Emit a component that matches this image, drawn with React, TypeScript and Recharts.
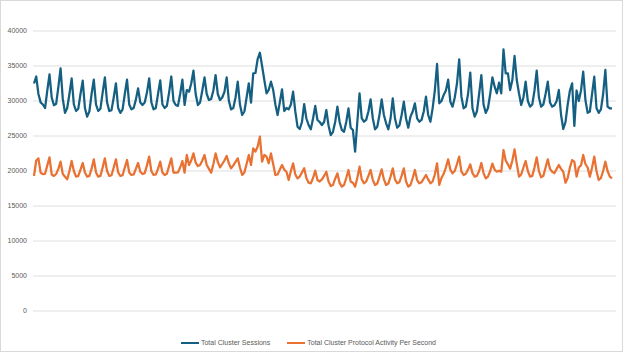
import { LineChart, Line, XAxis, YAxis, CartesianGrid, Legend } from "recharts";

// Samples, left to right (about five per daily cycle)
const totalClusterSessions = [
  32500, 33500,
  31000, 29800, 29500, 29000, 31500, 33800, 30500, 29400, 29600, 32000,
  34670, 30300, 28300, 29000, 31000, 33240, 29500, 28570, 28900, 31000,
  32900, 29000, 27760, 28500, 31000, 33050, 29500, 28570, 28900, 31200,
  33380, 29800, 28570, 28700, 30500, 32530, 29000, 28300, 28800, 31000,
  33050, 29500, 28800, 29000, 30200, 31800, 29800, 29430, 29800, 31200,
  33240, 29800, 28800, 29000, 31000, 32950, 29500, 29000, 29300, 31200,
  33500, 30000, 29430, 29300, 31000, 33050, 29430, 31570, 31330, 32500,
  34330, 31000, 29430, 29800, 31500, 33380, 31000, 30140, 30300, 31500,
  33710, 31000, 30140, 30500, 31300, 33380, 30000, 28800, 29000, 30500,
  32760, 29500, 28000, 28500, 30500, 32530, 29760, 33950, 34000, 36000,
  36900, 35000, 33000, 31100, 31600, 32760, 31600, 29500, 28000, 29800,
  31670, 28570, 29000, 28800, 29500, 31330, 28500, 26330, 26000, 27000,
  29570, 27500, 26570, 25950, 27500, 29290, 27290, 27000, 26570, 27000,
  28710, 26500, 25140, 25600, 27000, 29190, 27000, 25860, 25600, 27000,
  28950, 26190, 25860, 22760, 27000, 31100, 27520, 27040, 27300, 28500,
  30240, 27500, 25950, 26330, 28000, 30240, 28000, 26810, 25950, 27500,
  30380, 27500, 26190, 26500, 28000, 29900, 27500, 26190, 27760, 28500,
  29670, 27520, 27040, 27300, 28500, 30620, 28000, 27040, 28950, 31500,
  35290, 29670, 30000, 30860, 31500, 33050, 29900, 29190, 30500, 32500,
  35950, 30620, 28960, 29190, 31000, 34050, 28960, 27760, 28500, 31000,
  33710, 29500, 28300, 29000, 31000, 33380, 32050, 31100, 32620, 31100,
  37380, 33950, 33950, 31570, 33000, 36430, 33000, 31100, 29430, 30500,
  32760, 30000, 29190, 29500, 31500, 34330, 30500, 29190, 29500, 31000,
  32760, 29800, 29190, 29400, 30000,
  31570, 28000, 26000, 27000, 29500, 31500, 32530, 26430, 31500, 30000,
  31500, 34190, 30140, 28300, 28500, 31000, 33470, 29000, 28300, 28800,
  31000, 34430, 29190, 28960, 28960,
];

const protocolActivityPerSecond = [
  19290, 21500,
  21810, 19760, 19570, 19600, 20800, 21950, 19500, 19290, 19570, 20300,
  21330, 19570, 19190, 18810, 20000, 21430, 20000, 19190, 19300, 20200,
  21140, 19800, 19190, 19300, 20300, 21670, 19800, 19190, 19300, 20500,
  21810, 20000, 19290, 19400, 20500, 21670, 19800, 19290, 19400, 20500,
  21570, 19800, 19430, 19500, 20300, 21140, 19900, 19570, 19700, 20800,
  22050, 20000, 19430, 19500, 20300, 21330, 19800, 19430, 19600, 20700,
  21810, 19760, 19760, 19800, 20500, 21430, 19760, 22290, 20860, 21500,
  22520, 21200, 20710, 20860, 21500, 22290, 20860, 20300, 19760, 21000,
  22520, 21300, 20520, 21000, 21500, 22140, 21100, 20380, 20800, 21300,
  21810, 20500, 19430, 19800, 21000, 22290, 20860, 23240, 22760, 23500,
  24900, 21330, 22290, 22050, 21100, 22520, 21000, 19430, 19500, 20200,
  20860, 20200, 19900, 18710, 20000, 21100, 19500, 18950, 19200, 19800,
  20390, 19000, 18330, 18240, 19000, 20050, 18710, 18500, 18800, 19300,
  19900, 18500, 17860, 18000, 18900, 19670, 18300, 17760, 18000, 19000,
  20140, 18480, 18330, 17760, 19000, 20620, 18800, 18240, 18500, 19300,
  20140, 18700, 18000, 18200, 19200, 20240, 18800, 18000, 18200, 19200,
  20380, 18800, 18240, 18400, 19300, 20380, 18500, 17760, 18000, 19000,
  20140, 18700, 18240, 18400, 18900, 19430, 18800, 18240, 18500, 19500,
  21100, 18000, 19000, 19600, 20500, 21670, 20200, 19670, 20000, 21000,
  22050, 19900, 19430, 19600, 20200, 20950, 19700, 19190, 19300, 20000,
  21140, 19700, 18950, 19200, 20000, 21050, 20200, 19900, 20050, 19900,
  23000, 21500, 20950, 20330, 21500, 23100, 21050, 19190, 19500, 20500,
  21430, 20000, 19190, 19300, 20500, 21950, 20000, 19100, 19300, 20500,
  21670, 20300, 19900, 19700, 20300,
  20860, 20300, 19900, 18330, 19000, 20500, 21570, 21300, 19190, 20500,
  20800, 22290, 21000, 20500, 19190, 20500, 22050, 20000, 18710, 19000,
  20000, 21330, 20000, 19190, 18950,
];

const yTicks = [0, 5000, 10000, 15000, 20000, 25000, 30000, 35000, 40000];

const series = [
  { key: "sessions", name: "Total Cluster Sessions", color: "#156082" },
  { key: "activity", name: "Total Cluster Protocol Activity Per Second", color: "#E97132" },
];

const chartData = totalClusterSessions.map((v, i) => ({
  sample: i + 1,
  sessions: v,
  activity: protocolActivityPerSecond[i],
}));

const FONT = '"Liberation Sans", Arial, sans-serif';

function ChartLegend() {
  return (
    <div
      style={{
        height: 40,
        paddingTop: 24,
        boxSizing: "border-box",
        display: "flex",
        justifyContent: "center",
        gap: 17,
        fontSize: 7,
        lineHeight: "10px",
        color: "#595959",
        fontFamily: FONT,
      }}
    >
      {series.map((s) => (
        <div key={s.key} style={{ display: "flex", alignItems: "center", gap: 2 }}>
          <span style={{ display: "inline-block", width: 18, height: 2.5, background: s.color }} />
          <span>{s.name}</span>
        </div>
      ))}
    </div>
  );
}

export default function App() {
  return (
    <div
      style={{
        position: "absolute",
        left: 0,
        top: 0,
        width: 623,
        height: 352,
        border: "1px solid #d9d9d9",
        boxSizing: "border-box",
        background: "#fff",
        fontFamily: FONT,
      }}
    >
      <LineChart
        width={621}
        height={350}
        data={chartData}
        margin={{ top: 30, right: 6, bottom: 0, left: 0 }}
      >
        <CartesianGrid vertical={false} stroke="#dedede" />
        <XAxis dataKey="sample" hide padding={{ left: 1, right: 4 }} />
        <YAxis
          width={32}
          domain={[0, 40000]}
          ticks={yTicks}
          interval={0}
          axisLine={false}
          tickLine={false}
          tickMargin={0}
          tick={{ fontSize: 7, fill: "#595959", fontFamily: FONT }}
        />
        <Legend verticalAlign="bottom" content={<ChartLegend />} />
        {series.map((s) => (
          <Line
            key={s.key}
            type="linear"
            dataKey={s.key}
            name={s.name}
            stroke={s.color}
            strokeWidth={2.25}
            strokeLinejoin="round"
            dot={false}
            activeDot={false}
            isAnimationActive={false}
          />
        ))}
      </LineChart>
    </div>
  );
}
